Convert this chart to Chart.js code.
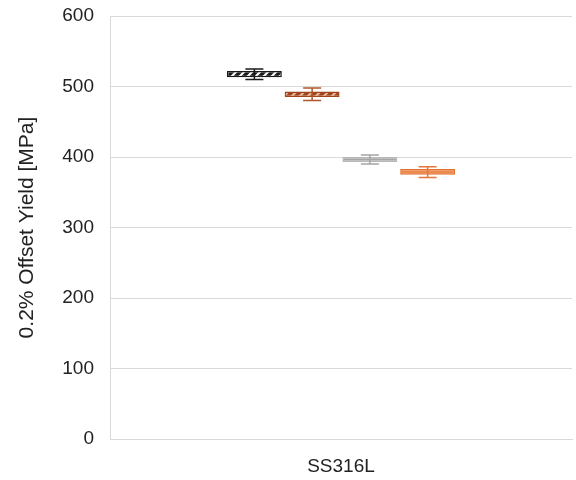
<!DOCTYPE html>
<html>
<head>
<meta charset="utf-8">
<script src="https://cdn.jsdelivr.net/npm/chart.js@4/dist/chart.umd.min.js"></script>
<style>
  html, body { margin: 0; padding: 0; background: #fff; }
  #wrap { width: 576px; height: 480px; }
</style>
</head>
<body>
<div id="wrap"><canvas id="yieldchart"></canvas></div>
<script>
const categories = ["SS316L"];
const seriesNames = ["A", "B", "C", "D"];
const boxLow = [513, 485, 393, 375];
const boxHigh = [522, 493, 400, 383];
const whiskerLow = [510, 480, 390, 371];
const whiskerHigh = [525, 498, 403, 386];
const yTicks = [0, 100, 200, 300, 400, 500, 600];

const edgeColors = ["#1a1a1a", "#a0441b", "#b8b8b8", "#e0702e"];
const whiskerColors = ["#1a1a1a", "#b0552a", "#a5a5a5", "#e8763a"];

function hatch(bg, fg) {
    const c = document.createElement("canvas");
    c.width = 8;
    c.height = 8;
    const g = c.getContext("2d");
    g.fillStyle = bg;
    g.fillRect(0, 0, 8, 8);
    g.strokeStyle = fg;
    g.lineWidth = 3.5;
    g.beginPath();
    g.moveTo(-2, 10); g.lineTo(10, -2);
    g.moveTo(-2, 2); g.lineTo(2, -2);
    g.moveTo(6, 10); g.lineTo(10, 6);
    g.stroke();
    return g.createPattern(c, "repeat");
}

const fills = [
    hatch("#ffffff", "#1a1a1a"),
    hatch("#e9b89c", "#a0441b"),
    "#a5a5a5",
    "#ef8a4f",
];

const errorBars = {
    id: "errorBars",
    afterDatasetsDraw(chart) {
        const ctx = chart.ctx;
        const y = chart.scales.y;
        chart.data.datasets.forEach((ds, i) => {
            const bar = chart.getDatasetMeta(i).data[0];
            const top = y.getPixelForValue(whiskerHigh[i]);
            const bot = y.getPixelForValue(whiskerLow[i]);
            ctx.save();
            ctx.strokeStyle = whiskerColors[i];
            ctx.lineWidth = 1.5;
            ctx.beginPath();
            ctx.moveTo(bar.x, top); ctx.lineTo(bar.x, bot);
            ctx.moveTo(bar.x - 9, top); ctx.lineTo(bar.x + 9, top);
            ctx.moveTo(bar.x - 9, bot); ctx.lineTo(bar.x + 9, bot);
            ctx.stroke();
            ctx.restore();
        });
    },
};

const datasets = seriesNames.map((name, i) => ({
    label: name,
    data: [[boxLow[i], boxHigh[i]]],
    backgroundColor: fills[i],
    borderColor: edgeColors[i],
    borderWidth: 1.5,
    borderSkipped: false,
    categoryPercentage: 0.5,
    barPercentage: 0.95,
}));

new Chart(document.getElementById("yieldchart"), {
    type: "bar",
    data: { labels: categories, datasets: datasets },
    plugins: [errorBars],
    options: {
        responsive: true,
        maintainAspectRatio: false,
        animation: false,
        layout: { padding: { top: 0, right: 4, left: 0, bottom: 0 } },
        plugins: {
            legend: { display: false },
            tooltip: { enabled: false },
        },
        scales: {
            x: {
                grid: { display: false },
                border: { color: "#d9d9d9" },
                afterFit: (axis) => { axis.height = 41; },
                ticks: {
                    color: "#222",
                    font: { family: "Liberation Sans, Arial", size: 19 },
                    padding: 8,
                },
            },
            y: {
                min: 0,
                max: 600,
                afterBuildTicks: (axis) => {
                    axis.ticks = yTicks.map((v) => ({ value: v }));
                },
                afterFit: (axis) => {
                    axis.width = 110;
                    axis.paddingTop = 16;
                    axis.paddingBottom = 0;
                },
                grid: { color: "#d9d9d9", drawTicks: false },
                border: { color: "#d9d9d9" },
                ticks: {
                    color: "#222",
                    font: { family: "Liberation Sans, Arial", size: 19 },
                    padding: 16,
                },
                title: {
                    display: true,
                    text: "0.2% Offset Yield [MPa]",
                    color: "#222",
                    font: { family: "Liberation Sans, Arial", size: 21 },
                    padding: { top: 15, bottom: 0 },
                },
            },
        },
    },
});
</script>
</body>
</html>
